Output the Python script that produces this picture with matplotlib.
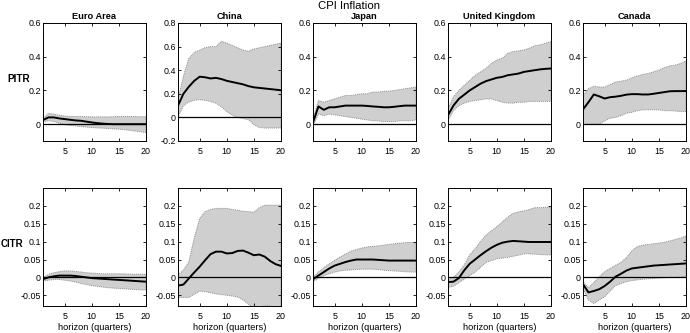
import matplotlib
matplotlib.use("Agg")
import matplotlib.pyplot as plt
import numpy as np

plt.rcParams["font.family"] = ["Liberation Sans", "DejaVu Sans"]

horizon = np.arange(1, 21)

countries = ["Euro Area", "China", "Japan", "United Kingdom", "Canada"]
rows = ["PITR", "CITR"]

# PITR responses (median, lower, upper)
ea_pitr_med = [0.024, 0.040, 0.040, 0.034, 0.030, 0.026, 0.022, 0.020, 0.015, 0.010,
               0.006, 0.003, 0.001, 0.0, 0.0, 0.0, 0.0, 0.0, 0.0, 0.0]
ea_pitr_lo = [0.012, 0.020, 0.016, 0.006, -0.004, -0.008, -0.011, -0.014, -0.017, -0.020,
              -0.022, -0.024, -0.026, -0.028, -0.030, -0.033, -0.037, -0.041, -0.045, -0.050]
ea_pitr_hi = [0.035, 0.063, 0.060, 0.052, 0.048, 0.046, 0.045, 0.045, 0.044, 0.043,
              0.043, 0.043, 0.043, 0.044, 0.045, 0.045, 0.045, 0.045, 0.044, 0.044]

cn_pitr_med = [0.10, 0.20, 0.26, 0.31, 0.345, 0.34, 0.33, 0.335, 0.325, 0.31,
               0.30, 0.29, 0.28, 0.265, 0.255, 0.25, 0.245, 0.24, 0.235, 0.23]
cn_pitr_lo = [0.0, 0.10, 0.13, 0.145, 0.15, 0.145, 0.135, 0.12, 0.09, 0.05,
              0.02, 0.0, -0.01, -0.02, -0.06, -0.085, -0.09, -0.09, -0.09, -0.09]
cn_pitr_hi = [0.15, 0.35, 0.50, 0.55, 0.57, 0.59, 0.60, 0.60, 0.645, 0.63,
              0.61, 0.59, 0.57, 0.56, 0.58, 0.59, 0.60, 0.61, 0.62, 0.63]

jp_pitr_med = [0.01, 0.105, 0.085, 0.10, 0.10, 0.105, 0.11, 0.11, 0.11, 0.11,
               0.108, 0.105, 0.103, 0.10, 0.10, 0.103, 0.107, 0.11, 0.11, 0.11]
jp_pitr_lo = [-0.01, 0.06, 0.05, 0.06, 0.055, 0.05, 0.045, 0.04, 0.035, 0.03,
              0.025, 0.02, 0.02, 0.015, 0.015, 0.015, 0.02, 0.02, 0.02, 0.025]
jp_pitr_hi = [0.03, 0.14, 0.13, 0.14, 0.15, 0.16, 0.17, 0.17, 0.175, 0.18,
              0.18, 0.19, 0.19, 0.195, 0.195, 0.20, 0.205, 0.21, 0.215, 0.22]

uk_pitr_med = [0.053, 0.11, 0.15, 0.175, 0.20, 0.22, 0.24, 0.255, 0.265, 0.275,
               0.28, 0.29, 0.295, 0.30, 0.31, 0.315, 0.32, 0.325, 0.328, 0.33]
uk_pitr_lo = [0.02, 0.08, 0.11, 0.125, 0.135, 0.14, 0.145, 0.15, 0.15, 0.14,
              0.13, 0.125, 0.125, 0.13, 0.13, 0.135, 0.135, 0.135, 0.135, 0.135]
uk_pitr_hi = [0.09, 0.16, 0.20, 0.23, 0.26, 0.29, 0.31, 0.33, 0.36, 0.38,
              0.39, 0.42, 0.43, 0.435, 0.44, 0.45, 0.465, 0.47, 0.48, 0.49]

ca_pitr_med = [0.087, 0.13, 0.176, 0.165, 0.152, 0.16, 0.163, 0.168, 0.175, 0.178,
               0.178, 0.176, 0.176, 0.18, 0.185, 0.19, 0.195, 0.196, 0.196, 0.196]
ca_pitr_lo = [0.01, 0.0, 0.0, 0.0, 0.02, 0.035, 0.04, 0.05, 0.065, 0.07,
              0.08, 0.085, 0.085, 0.085, 0.085, 0.08, 0.08, 0.078, 0.075, 0.075]
ca_pitr_hi = [0.17, 0.21, 0.225, 0.22, 0.22, 0.235, 0.25, 0.255, 0.26, 0.275,
              0.285, 0.295, 0.30, 0.31, 0.32, 0.335, 0.345, 0.35, 0.36, 0.375]

# CITR responses (median, lower, upper)
ea_citr_med = [-0.005, 0.0, 0.003, 0.005, 0.005, 0.005, 0.004, 0.002, 0.0, -0.002,
               -0.003, -0.004, -0.005, -0.006, -0.007, -0.008, -0.009, -0.010, -0.011, -0.012]
ea_citr_lo = [-0.010, -0.008, -0.006, -0.006, -0.008, -0.010, -0.013, -0.017, -0.020, -0.023,
              -0.025, -0.027, -0.029, -0.030, -0.031, -0.032, -0.033, -0.034, -0.035, -0.035]
ea_citr_hi = [0.0, 0.008, 0.013, 0.016, 0.018, 0.018, 0.017, 0.015, 0.013, 0.012,
              0.011, 0.010, 0.010, 0.010, 0.010, 0.010, 0.009, 0.009, 0.009, 0.009]

cn_citr_med = [-0.023, -0.020, -0.003, 0.014, 0.030, 0.048, 0.065, 0.072, 0.072, 0.067,
               0.068, 0.074, 0.075, 0.069, 0.062, 0.064, 0.058, 0.046, 0.037, 0.032]
cn_citr_lo = [-0.056, -0.056, -0.056, -0.047, -0.038, -0.040, -0.043, -0.046, -0.048, -0.050,
              -0.052, -0.055, -0.063, -0.075, -0.085, -0.090, -0.078, -0.080, -0.090, -0.090]
cn_citr_hi = [0.007, 0.020, 0.044, 0.110, 0.165, 0.184, 0.190, 0.193, 0.193, 0.193,
              0.190, 0.188, 0.185, 0.184, 0.182, 0.195, 0.202, 0.202, 0.202, 0.202]

jp_citr_med = [-0.005, 0.005, 0.015, 0.025, 0.033, 0.038, 0.043, 0.047, 0.050, 0.050,
               0.050, 0.050, 0.049, 0.048, 0.047, 0.047, 0.047, 0.047, 0.047, 0.047]
jp_citr_lo = [-0.012, -0.003, 0.005, 0.010, 0.015, 0.018, 0.020, 0.021, 0.022, 0.023,
              0.023, 0.023, 0.022, 0.020, 0.019, 0.018, 0.017, 0.016, 0.015, 0.015]
jp_citr_hi = [0.0, 0.015, 0.027, 0.038, 0.048, 0.057, 0.065, 0.073, 0.078, 0.082,
              0.085, 0.087, 0.088, 0.090, 0.092, 0.094, 0.096, 0.097, 0.098, 0.098]

uk_citr_med = [-0.013, -0.012, -0.002, 0.020, 0.038, 0.050, 0.062, 0.073, 0.083, 0.091,
               0.097, 0.100, 0.102, 0.101, 0.100, 0.099, 0.099, 0.099, 0.099, 0.099]
uk_citr_lo = [-0.028, -0.025, -0.015, -0.005, 0.005, 0.015, 0.028, 0.042, 0.047, 0.052,
              0.054, 0.056, 0.059, 0.062, 0.066, 0.066, 0.065, 0.064, 0.063, 0.063]
uk_citr_hi = [-0.005, 0.0, 0.015, 0.035, 0.063, 0.080, 0.100, 0.118, 0.130, 0.142,
              0.155, 0.168, 0.179, 0.183, 0.186, 0.190, 0.195, 0.195, 0.196, 0.196]

ca_citr_med = [-0.019, -0.042, -0.038, -0.033, -0.024, -0.012, 0.002, 0.010, 0.019, 0.025,
               0.027, 0.029, 0.031, 0.033, 0.034, 0.035, 0.036, 0.037, 0.038, 0.039]
ca_citr_lo = [-0.031, -0.063, -0.073, -0.063, -0.054, -0.038, -0.023, -0.017, -0.012, -0.009,
              -0.007, -0.005, -0.004, -0.003, -0.002, -0.001, 0.0, 0.0, 0.001, 0.001]
ca_citr_hi = [-0.012, -0.029, -0.014, 0.002, 0.016, 0.025, 0.034, 0.042, 0.055, 0.074,
              0.086, 0.090, 0.092, 0.094, 0.096, 0.098, 0.102, 0.106, 0.110, 0.116]

pitr = [(ea_pitr_med, ea_pitr_lo, ea_pitr_hi), (cn_pitr_med, cn_pitr_lo, cn_pitr_hi),
        (jp_pitr_med, jp_pitr_lo, jp_pitr_hi), (uk_pitr_med, uk_pitr_lo, uk_pitr_hi),
        (ca_pitr_med, ca_pitr_lo, ca_pitr_hi)]
citr = [(ea_citr_med, ea_citr_lo, ea_citr_hi), (cn_citr_med, cn_citr_lo, cn_citr_hi),
        (jp_citr_med, jp_citr_lo, jp_citr_hi), (uk_citr_med, uk_citr_lo, uk_citr_hi),
        (ca_citr_med, ca_citr_lo, ca_citr_hi)]

pitr_ylims = [(-0.1, 0.6), (-0.2, 0.8), (-0.1, 0.6), (-0.1, 0.6), (-0.1, 0.6)]
pitr_yticks = [[0, 0.2, 0.4, 0.6], [-0.2, 0, 0.2, 0.4, 0.6, 0.8],
               [0, 0.2, 0.4, 0.6], [0, 0.2, 0.4, 0.6], [0, 0.2, 0.4, 0.6]]
citr_ylim = (-0.08, 0.25)
citr_yticks = [-0.05, 0, 0.05, 0.1, 0.15, 0.2]

W, H = 690, 333
fig = plt.figure(figsize=(W / 100, H / 100), dpi=100)

# axes boxes in pixels (MATLAB-like fixed layout)
lefts = [43, 178, 313, 448, 583]
ax_w = 103
row_tops = [23, 188]
ax_h = 118


def draw_panel(ax, med, lo, hi, ylim, yticks):
    ax.fill_between(horizon, lo, hi, facecolor="#cfcfcf", edgecolor="#8c8c8c",
                    linestyle=(0, (1, 1)), linewidth=0.7)
    ax.axhline(0, color="black", linewidth=0.9)
    ax.plot(horizon, med, color="black", linewidth=1.4)
    ax.set_xlim(1, 20)
    ax.set_ylim(*ylim)
    ax.set_xticks([5, 10, 15, 20])
    ax.set_yticks(yticks)
    ax.set_yticklabels([f"{v:g}" for v in yticks])
    ax.tick_params(direction="in", top=True, right=True, length=2.5, width=0.6,
                   labelsize=6.4)
    ax.tick_params(axis="x", pad=4)
    ax.tick_params(axis="y", pad=1.5)
    for s in ax.spines.values():
        s.set_linewidth(0.7)


for r, (data, top) in enumerate(zip([pitr, citr], row_tops)):
    for c, (med, lo, hi) in enumerate(data):
        x0 = lefts[c] / W
        y0 = 1 - (top + ax_h) / H
        ax = fig.add_axes([x0, y0, ax_w / W, ax_h / H])
        if r == 0:
            draw_panel(ax, med, lo, hi, pitr_ylims[c], pitr_yticks[c])
            ax.set_title(countries[c], fontsize=6.7, fontweight="bold", pad=3)
        else:
            draw_panel(ax, med, lo, hi, citr_ylim, citr_yticks)
            ax.set_xlabel("horizon (quarters)", fontsize=6.7, labelpad=2)

# row labels
fig.text(30 / W, 1 - 79 / H, rows[0], ha="right", va="center", fontsize=7.2,
         fontweight="bold")
fig.text(23.5 / W, 1 - 244 / H, rows[1], ha="right", va="center", fontsize=7,
         fontweight="bold")

fig.text(349 / W, 1 - 6 / H, "CPI Inflation", ha="center", va="center", fontsize=8.2)

fig.savefig("out.png", dpi=100)
